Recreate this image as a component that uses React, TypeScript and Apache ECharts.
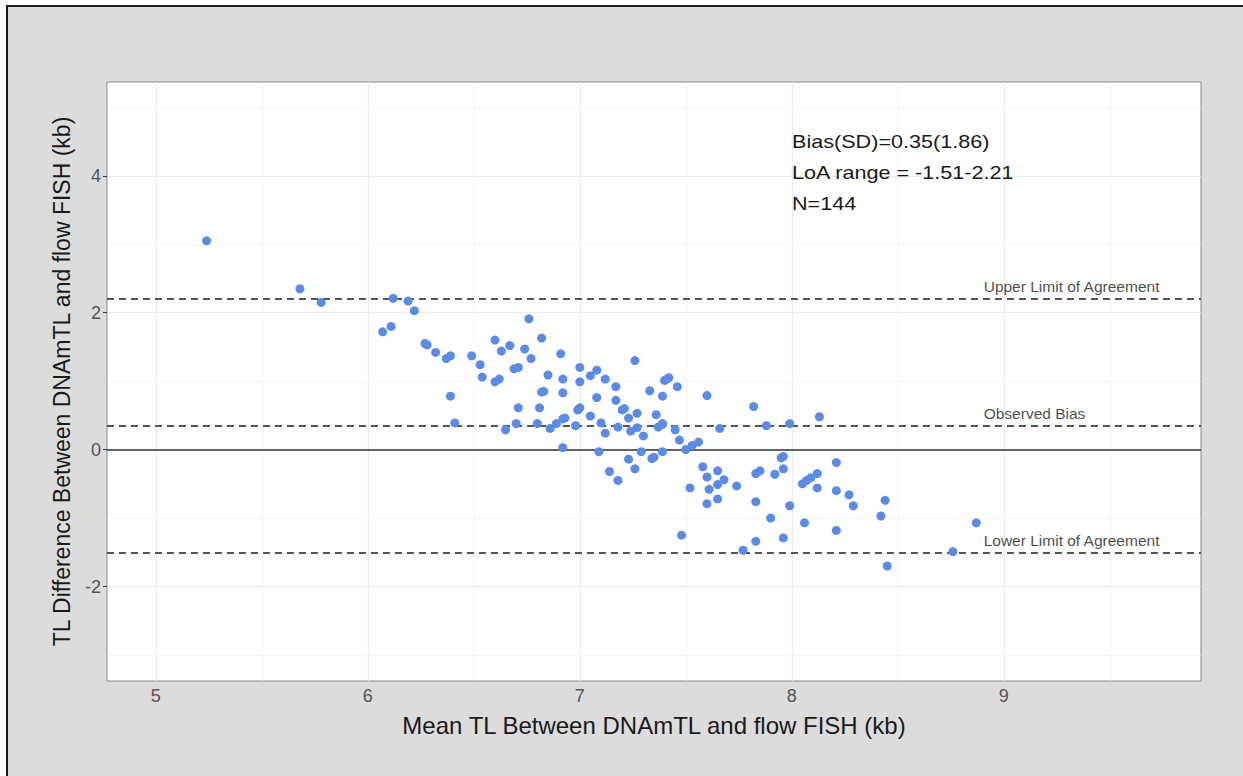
import React, { useEffect, useRef } from "react";
import * as echarts from "echarts";

const meanTL: number[] = [
  5.24, 5.68, 5.78, 6.12, 6.19, 6.22, 6.07, 6.11, 6.27, 6.28, 6.32, 6.37, 6.39, 6.49, 6.53, 6.6, 6.63, 6.67,
  6.39, 6.41, 6.54, 6.6, 6.62, 6.69, 6.71, 6.71, 6.7, 6.65, 6.74, 6.76, 6.77, 6.82, 6.81, 6.8, 6.82, 6.83,
  6.85, 6.86, 6.89, 6.92, 6.91, 6.92, 6.92, 6.92, 6.93, 6.98, 7.0, 7.0, 6.99, 7.0, 7.05, 7.05, 7.08, 7.08,
  7.1, 7.09, 7.12, 7.12, 7.14, 7.17, 7.17, 7.2, 7.21, 7.18, 7.18, 7.23, 7.24, 7.27, 7.27, 7.23, 7.26, 7.26,
  7.29, 7.3, 7.33, 7.36, 7.37, 7.39, 7.39, 7.34, 7.35, 7.39, 7.39, 7.4, 7.41, 7.42, 7.46, 7.45, 7.47, 7.5,
  7.53, 7.56, 7.6, 7.66, 7.58, 7.6, 7.61, 7.65, 7.65, 7.68, 7.52, 7.6, 7.65, 7.74, 7.82, 7.88, 7.99, 7.83,
  7.85, 7.92, 7.95, 7.96, 7.96, 7.83, 7.9, 7.99, 8.06, 8.05, 8.07, 8.09, 8.12, 8.12, 8.13, 7.48, 7.77, 7.83,
  7.96, 8.21, 8.21, 8.21, 8.27, 8.29, 8.42, 8.44, 8.45, 8.87, 8.76,
];

const diffTL: number[] = [
  3.05, 2.35, 2.15, 2.21, 2.17, 2.03, 1.72, 1.8, 1.55, 1.53, 1.42, 1.33, 1.37, 1.37, 1.24, 1.6, 1.44, 1.52,
  0.78, 0.39, 1.06, 0.99, 1.03, 1.18, 1.2, 0.61, 0.38, 0.29, 1.47, 1.91, 1.33, 1.63, 0.61, 0.38, 0.84, 0.85,
  1.09, 0.31, 0.38, 0.03, 1.4, 1.03, 0.83, 0.45, 0.46, 0.35, 0.99, 1.2, 0.58, 0.61, 0.49, 1.08, 1.16, 0.76,
  0.39, -0.03, 1.03, 0.24, -0.32, 0.92, 0.72, 0.58, 0.6, 0.33, -0.45, 0.46, 0.27, 0.53, 0.32, -0.14, -0.28, 1.3,
  -0.03, 0.2, 0.86, 0.51, 0.33, 0.37, 0.38, -0.13, -0.11, -0.03, 0.78, 1.01, 1.03, 1.05, 0.92, 0.29, 0.14, 0.0,
  0.06, 0.11, 0.79, 0.31, -0.25, -0.4, -0.58, -0.31, -0.51, -0.44, -0.56, -0.79, -0.72, -0.53, 0.63, 0.35, 0.38, -0.35,
  -0.31, -0.36, -0.12, -0.1, -0.28, -0.76, -1.0, -0.82, -1.07, -0.5, -0.45, -0.41, -0.35, -0.56, 0.48, -1.25, -1.47, -1.34,
  -1.29, -1.18, -0.19, -0.6, -0.66, -0.82, -0.97, -0.74, -1.7, -1.07, -1.49,
];

const xTicks: number[] = [5, 6, 7, 8, 9];
const xMinorGrid: number[] = [5.5, 6.5, 7.5, 8.5, 9.5];
const yTicks: number[] = [-2, 0, 2, 4];
const yMinorGrid: number[] = [-3, -1, 1, 3, 5];

const refValues: number[] = [2.21, 0.35, -1.51];
const refLabels: string[] = ["Upper Limit of Agreement", "Observed Bias", "Lower Limit of Agreement"];
const labelX = 8.905;

const statsText: string[] = ["Bias(SD)=0.35(1.86)", "LoA range = -1.51-2.21", "N=144"];

const xRange = [4.77, 9.93];
const yRange = [-3.38, 5.37];

const FONT = "'Liberation Sans', Arial, sans-serif";

export default function App() {
  const ref = useRef<HTMLDivElement>(null);

  useEffect(() => {
    if (!ref.current) return;
    const chart = echarts.init(ref.current, null, { renderer: "svg" });

    const points = meanTL.map((x, i) => [x, diffTL[i]]);

    const gridLines = [
      ...xTicks.map((v) => ({ xAxis: v, lineStyle: { color: "#ebebeb", width: 1.2, type: "solid" } })),
      ...xMinorGrid.map((v) => ({ xAxis: v, lineStyle: { color: "#f4f4f4", width: 0.8, type: "solid" } })),
      ...yTicks.map((v) => ({ yAxis: v, lineStyle: { color: "#ebebeb", width: 1.2, type: "solid" } })),
      ...yMinorGrid.map((v) => ({ yAxis: v, lineStyle: { color: "#f4f4f4", width: 0.8, type: "solid" } })),
    ];

    const option: any = {
      animation: false,
      backgroundColor: "transparent",
      textStyle: { fontFamily: FONT },
      grid: {
        left: 107,
        right: 42,
        top: 82,
        bottom: 95,
        show: true,
        backgroundColor: "#ffffff",
        borderColor: "#8a8a8a",
        borderWidth: 1,
      },
      xAxis: {
        type: "value",
        min: xRange[0],
        max: xRange[1],
        name: "Mean TL Between DNAmTL and flow FISH (kb)",
        nameLocation: "middle",
        nameGap: 32,
        nameTextStyle: { fontSize: 24, color: "#1a1a1a", fontFamily: FONT },
        axisLine: { show: false },
        axisTick: { show: true, customValues: xTicks, length: 4, lineStyle: { color: "#333" } },
        axisLabel: { customValues: xTicks, fontSize: 18, color: "#555555", margin: 6, fontFamily: FONT },
        splitLine: { show: false },
      },
      yAxis: {
        type: "value",
        min: yRange[0],
        max: yRange[1],
        name: "TL Difference Between DNAmTL and flow FISH (kb)",
        nameLocation: "middle",
        nameGap: 34,
        nameRotate: 90,
        nameTextStyle: { fontSize: 23, color: "#1a1a1a", fontFamily: FONT },
        axisLine: { show: false },
        axisTick: { show: true, customValues: yTicks, length: 4, lineStyle: { color: "#333" } },
        axisLabel: { customValues: yTicks, fontSize: 18, color: "#555555", margin: 6, fontFamily: FONT },
        splitLine: { show: false },
      },
      series: [
        {
          type: "line",
          data: [],
          silent: true,
          z: 1,
          markLine: {
            silent: true,
            symbol: "none",
            label: { show: false },
            data: gridLines,
          },
        },
        {
          type: "line",
          data: [],
          silent: true,
          z: 2,
          markLine: {
            silent: true,
            symbol: "none",
            label: { show: false },
            data: [
              { yAxis: 0, lineStyle: { color: "#333333", width: 1.6, type: "solid" } },
              ...refValues.map((v) => ({
                yAxis: v,
                lineStyle: { color: "#555555", width: 2, type: [7, 5] },
              })),
            ],
          },
        },
        {
          type: "scatter",
          data: points,
          symbol: "circle",
          symbolSize: 9,
          z: 5,
          itemStyle: { color: "#5a8be6", opacity: 1 },
        },
        {
          type: "scatter",
          data: refValues.map((v, i) => ({ value: [labelX, v], name: refLabels[i] })),
          symbolSize: 0,
          silent: true,
          z: 6,
          label: {
            show: true,
            position: "right",
            distance: 0,
            offset: [0, -12],
            formatter: (p: any) => p.name,
            fontSize: 15.5,
            color: "#1a1a1a",
            fontFamily: FONT,
          },
        },
      ],
      graphic: [
        {
          type: "text",
          left: 792,
          top: 126,
          z: 10,
          scaleX: 1.2,
          style: {
            text: statsText.join("\n"),
            fontSize: 18,
            lineHeight: 31,
            fill: "#1a1a1a",
            fontFamily: FONT,
          },
        },
      ],
    };

    chart.setOption(option);
    return () => chart.dispose();
  }, []);

  return (
    <div style={{ position: "fixed", left: 0, top: 0, width: 1243, height: 776, background: "#ffffff", overflow: "hidden" }}>
      <div
        style={{
          position: "absolute",
          left: 6,
          top: 5,
          right: 0,
          bottom: 0,
          background: "#dcdcdc",
          borderTop: "2px solid #1a1a1a",
          borderLeft: "2px solid #1a1a1a",
        }}
      />
      <div ref={ref} style={{ position: "absolute", left: 0, top: 0, width: 1243, height: 776 }} />
    </div>
  );
}
